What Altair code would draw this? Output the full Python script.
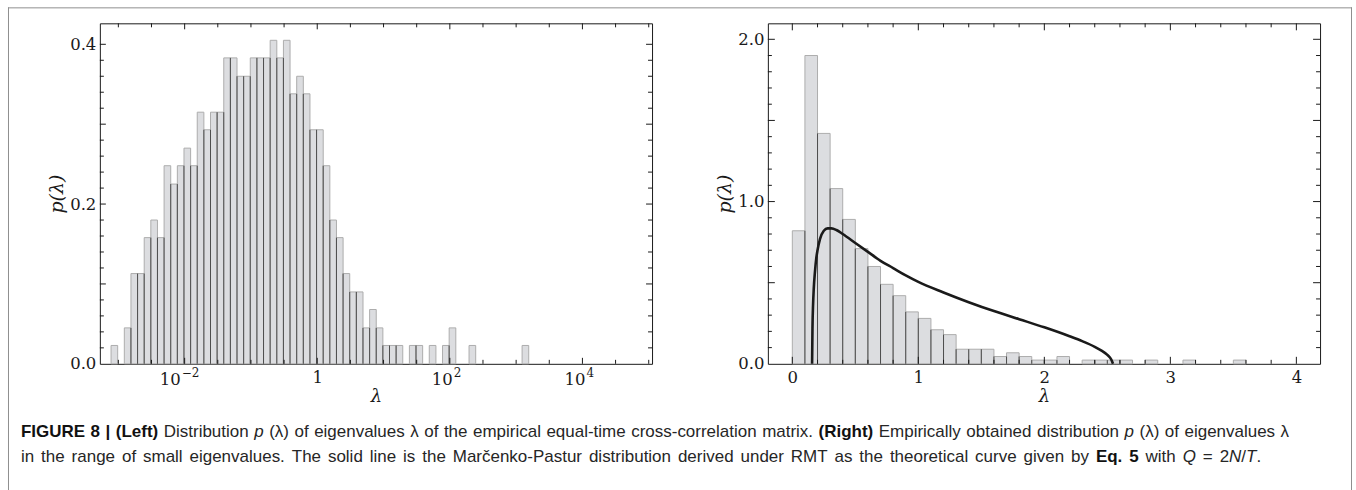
import altair as alt
import pandas as pd

# ---------------- data ----------------
# Left panel: histogram of log10(lambda), bins of 0.1 decade, first lower edge at 10^-3.11
left_first_edge_log = -3.11
left_bin_w = 0.1
left_p = [0.023, 0.0, 0.045, 0.113, 0.113, 0.158, 0.180, 0.158, 0.248, 0.225,
          0.248, 0.270, 0.248, 0.315, 0.293, 0.315, 0.315, 0.383, 0.383, 0.360,
          0.360, 0.383, 0.383, 0.383, 0.405, 0.383, 0.405, 0.338, 0.360, 0.338,
          0.293, 0.293, 0.248, 0.180, 0.158, 0.113, 0.090, 0.090, 0.045, 0.068,
          0.045, 0.023, 0.023, 0.023, 0.0, 0.023, 0.023, 0.0, 0.023, 0.0,
          0.023, 0.045, 0.0, 0.0, 0.023, 0.0, 0.0, 0.0, 0.0, 0.0,
          0.0, 0.0, 0.023]

# Right panel: histogram of lambda, bins of width 0.1 starting at 0
right_first_edge = 0.0
right_bin_w = 0.1
right_p = [0.82, 1.90, 1.42, 1.08, 0.89, 0.71, 0.60, 0.49, 0.42, 0.32,
           0.28, 0.21, 0.18, 0.09, 0.09, 0.09, 0.045, 0.068, 0.045, 0.023,
           0.023, 0.045, 0.0, 0.023, 0.023, 0.023, 0.023, 0.0, 0.023, 0.0,
           0.0, 0.023, 0.0, 0.0, 0.0, 0.023]

# Marcenko-Pastur curve, points
mp_lam = [0.157, 0.160, 0.165, 0.170, 0.180, 0.190, 0.200, 0.220, 0.250, 0.280,
          0.310, 0.350, 0.400, 0.500, 0.600, 0.700, 0.800, 0.900, 1.000, 1.200,
          1.400, 1.600, 1.800, 2.000, 2.200, 2.300, 2.400, 2.450, 2.500, 2.530, 2.545]
mp_p = [0.0, 0.22, 0.37, 0.46, 0.57, 0.65, 0.70, 0.77, 0.82, 0.835,
        0.835, 0.825, 0.80, 0.745, 0.69, 0.635, 0.59, 0.545, 0.505, 0.44,
        0.38, 0.325, 0.275, 0.225, 0.17, 0.14, 0.105, 0.083, 0.055, 0.028, 0.0]

# tick values and labels
left_x_plain = [1.0]
left_x_pow_values = [1e-2, 1e2, 1e4]
left_x_pow_exps = ["−2", "2", "4"]
left_x_labels = [1e-2, 1.0, 1e2, 1e4]
left_x_minor = [10 ** (k / 2) for k in range(-6, 11) if k % 4 != 0]
left_y_labels = [0.0, 0.2, 0.4]
left_y_major = [0.1, 0.2, 0.3, 0.4]
left_y_minor = [round(0.02 * k, 2) for k in range(1, 21) if k % 5 != 0]

right_x_labels = [0, 1, 2, 3, 4]
right_x_minor = [round(0.2 * k, 1) for k in range(0, 21) if k % 5 != 0]
right_y_labels = [0.0, 1.0, 2.0]
right_y_major = [0.5, 1.0, 1.5, 2.0]
right_y_minor = [round(0.1 * k, 1) for k in range(1, 21) if k % 5 != 0]

caption_line1 = [("FIGURE 8 | (Left)", "b"), (" Distribution ", "r"), ("p", "i"),
                 (" (λ) of eigenvalues λ of the empirical equal-time cross-correlation matrix. ", "r"),
                 ("(Right)", "b"), (" Empirically obtained distribution ", "r"), ("p", "i"),
                 (" (λ) of eigenvalues λ", "r")]
caption_line2 = [("in the range of small eigenvalues. The solid line is the Marčenko-Pastur distribution "
                  "derived under RMT as the theoretical curve given by ", "r"),
                 ("Eq. 5", "b"), (" with ", "r"), ("Q", "i"), (" = 2", "r"), ("N", "i"),
                 ("/", "r"), ("T", "i"), (".", "r")]

# ---------------- style / layout ----------------
W, H = 553, 341
GAP = 116
FILL = "#dcdde0"
EDGE = "#adadad"
DARK = "#4d4d4d"
TICK = "#1a1a1a"
SERIF = "DejaVu Serif"
SANS = "Liberation Sans"
LAB_FS = 16.5

xs_L = alt.Scale(type="log", domain=[10 ** -3.279, 10 ** 5.05], nice=False)
ys_L = alt.Scale(domain=[0, H / 800.0], nice=False, zero=False)
xs_R = alt.Scale(domain=[-0.194, 4.188], nice=False, zero=False)
ys_R = alt.Scale(domain=[0, H / 162.5], nice=False, zero=False)


def x_axis(values, fmt=None):
    kw = dict(values=values, ticks=False, domain=False, grid=False, labelFont=SERIF,
              labelFontSize=LAB_FS, labelColor=TICK, labelPadding=6, labelFlush=False,
              labelOverlap=False, title="λ", titleFont=SERIF, titleFontStyle="italic",
              titleFontWeight="normal", titleFontSize=18, titleColor=TICK, titlePadding=1)
    if fmt:
        kw["format"] = fmt
    return alt.Axis(**kw)


def y_axis(values):
    return alt.Axis(values=values, format=".1f", ticks=False, domain=False, grid=False,
                    labelFont=SERIF, labelFontSize=LAB_FS, labelColor=TICK, labelPadding=4,
                    labelFlush=False, labelOverlap=False, title="p(λ)", titleFont=SERIF,
                    titleFontStyle="italic", titleFontWeight="normal", titleFontSize=19,
                    titleColor=TICK, titlePadding=3)


def hist_frames(p, edge_of):
    rows, bounds = [], []
    for i, v in enumerate(p):
        if v > 0:
            rows.append({"lo": edge_of(i), "hi": edge_of(i + 1), "p": v, "b0": 0.0})
        if i > 0 and v > 0 and p[i - 1] > 0:
            bounds.append({"e": edge_of(i), "t": min(v, p[i - 1]), "b0": 0.0})
    return pd.DataFrame(rows), pd.DataFrame(bounds)


def tick_layers(xs, ys, xax, yax, xmaj, xmin, ymaj, ymin, lx, ly):
    out = []
    for vals, ln in ((xmaj, lx[0]), (xmin, lx[1])):
        base = alt.Chart(pd.DataFrame({"v": vals})).mark_rule(color=TICK, strokeWidth=1)
        out.append(base.encode(x=alt.X("v:Q", scale=xs, axis=xax), y=alt.value(H), y2=alt.value(H - ln)))
        out.append(base.encode(x=alt.X("v:Q", scale=xs, axis=xax), y=alt.value(0), y2=alt.value(ln)))
    for vals, ln in ((ymaj, ly[0]), (ymin, ly[1])):
        base = alt.Chart(pd.DataFrame({"v": vals})).mark_rule(color=TICK, strokeWidth=1)
        out.append(base.encode(y=alt.Y("v:Q", scale=ys, axis=yax), x=alt.value(0), x2=alt.value(ln)))
        out.append(base.encode(y=alt.Y("v:Q", scale=ys, axis=yax), x=alt.value(W), x2=alt.value(W - ln)))
    return out


# ---------------- left panel ----------------
barsL, boundL = hist_frames(left_p, lambda i: 10 ** (left_first_edge_log + left_bin_w * i))
xaxL = x_axis(left_x_plain)
yaxL = y_axis(left_y_labels)
left_layers = [
    alt.Chart(barsL).mark_rect(fill=FILL, stroke=EDGE, strokeWidth=1).encode(
        x=alt.X("lo:Q", scale=xs_L, axis=xaxL), x2="hi",
        y=alt.Y("p:Q", scale=ys_L, axis=yaxL), y2="b0"),
    alt.Chart(boundL).mark_rule(color=DARK, strokeWidth=1).encode(
        x=alt.X("e:Q", scale=xs_L, axis=xaxL),
        y=alt.Y("t:Q", scale=ys_L, axis=yaxL), y2="b0"),
]
left_layers += tick_layers(xs_L, ys_L, xaxL, yaxL, left_x_labels, left_x_minor,
                           left_y_major, left_y_minor, lx=(6, 4), ly=(6, 4))

# power-of-ten tick labels: "10" plus a raised exponent, placed through the x scale
for val, ex in zip(left_x_pow_values, left_x_pow_exps):
    d = pd.DataFrame({"v": [val], "b": ["10"], "e": [ex]})
    shift = -4 if ex.startswith("−") else 3
    left_layers.append(alt.Chart(d).mark_text(
        align="right", baseline="alphabetic", font=SERIF, fontSize=LAB_FS, color=TICK,
        dx=shift).encode(x=alt.X("v:Q", scale=xs_L, axis=xaxL), y=alt.value(H + 21), text="b:N"))
    left_layers.append(alt.Chart(d).mark_text(
        align="left", baseline="alphabetic", font=SERIF, fontSize=12, color=TICK,
        dx=shift + 1).encode(x=alt.X("v:Q", scale=xs_L, axis=xaxL), y=alt.value(H + 13), text="e:N"))

# outer figure frame (relative to the left plot's origin at page (99, 22))
OX, OY = 99, 22
one = pd.DataFrame({"k": [0]})
frame_col = "#8f8f8f"
left_layers += [
    alt.Chart(one).mark_rule(color=frame_col, strokeWidth=1).encode(
        x=alt.value(7.5 - OX), y=alt.value(6 - OY), y2=alt.value(490 - OY)),
    alt.Chart(one).mark_rule(color=frame_col, strokeWidth=1).encode(
        x=alt.value(1352.5 - OX), y=alt.value(6 - OY), y2=alt.value(490 - OY)),
    alt.Chart(one).mark_rule(color=frame_col, strokeWidth=1).encode(
        x=alt.value(7 - OX), x2=alt.value(1353 - OX), y=alt.value(6.5 - OY)),
]

# caption: justified lines of mixed bold / italic runs (Arial-compatible advance widths)
REG = {' ': 278, '!': 278, '(': 333, ')': 333, ',': 278, '-': 333, '.': 278, '/': 278,
       ':': 278, '=': 584, '|': 260, 'λ': 500, 'č': 500}
for c, w in zip("ABCDEFGHIJKLMNOPQRSTUVWXYZ",
                [667, 667, 722, 722, 667, 611, 778, 722, 278, 500, 667, 556, 833, 722, 778,
                 667, 778, 722, 667, 611, 722, 667, 944, 667, 667, 611]):
    REG[c] = w
for c, w in zip("abcdefghijklmnopqrstuvwxyz",
                [556, 556, 500, 556, 556, 278, 556, 556, 222, 222, 500, 222, 833, 556, 556,
                 556, 556, 333, 500, 278, 556, 500, 722, 500, 500, 500]):
    REG[c] = w
BOLD = {' ': 278, '(': 333, ')': 333, '.': 278, '|': 280, ',': 278}
for c, w in zip("ABCDEFGHIJKLMNOPQRSTUVWXYZ",
                [722, 722, 722, 722, 667, 611, 778, 722, 278, 556, 722, 611, 833, 722, 778,
                 667, 778, 722, 667, 611, 722, 667, 944, 667, 667, 611]):
    BOLD[c] = w
for c, w in zip("abcdefghijklmnopqrstuvwxyz",
                [556, 611, 556, 611, 556, 333, 611, 611, 278, 278, 556, 278, 889, 611, 611,
                 611, 611, 389, 556, 333, 611, 556, 778, 556, 556, 500]):
    BOLD[c] = w

CAP_FS = 17


def em_width(s, style):
    tab = BOLD if style == "b" else REG
    return sum(tab.get(ch, 556) for ch in s) / 1000.0


def split_words(line):
    words, cur = [], []
    for s, st in line:
        buf = ""
        for ch in s:
            if ch == " ":
                if buf:
                    cur.append((buf, st))
                    buf = ""
                if cur:
                    words.append(cur)
                    cur = []
            else:
                buf += ch
        if buf:
            cur.append((buf, st))
    if cur:
        words.append(cur)
    return words


def caption_layers(line, x0, x1, base_y):
    words = split_words(line)
    wlen = [sum(em_width(t, st) for t, st in w) * CAP_FS for w in words]
    gap = (x1 - x0 - sum(wlen)) / (len(words) - 1)
    out = []
    x = x0
    for w, wl in zip(words, wlen):
        rx = x
        for t, st in w:
            out.append(alt.Chart(pd.DataFrame({"t": [t]})).mark_text(
                align="left", baseline="alphabetic", font=SANS, fontSize=CAP_FS,
                fontWeight="bold" if st == "b" else "normal",
                fontStyle="italic" if st == "i" else "normal",
                color="#111111" if st == "b" else "#262626").encode(
                x=alt.value(rx - OX), y=alt.value(base_y - OY), text="t:N"))
            rx += em_width(t, st) * CAP_FS
        x += wl + gap
    return out


left_layers += caption_layers(caption_line1, 20, 1290, 436)
left_layers += caption_layers(caption_line2, 20, 1262, 461)

left = alt.layer(*left_layers).properties(width=W, height=H)

# ---------------- right panel ----------------
barsR, boundR = hist_frames(right_p, lambda i: round(right_first_edge + right_bin_w * i, 3))
mp = pd.DataFrame({"lam": mp_lam, "p": mp_p})
xaxR = x_axis(right_x_labels, fmt="d")
yaxR = y_axis(right_y_labels)
right_layers = [
    alt.Chart(barsR).mark_rect(fill=FILL, stroke=EDGE, strokeWidth=1).encode(
        x=alt.X("lo:Q", scale=xs_R, axis=xaxR), x2="hi",
        y=alt.Y("p:Q", scale=ys_R, axis=yaxR), y2="b0"),
    alt.Chart(boundR).mark_rule(color=DARK, strokeWidth=1).encode(
        x=alt.X("e:Q", scale=xs_R, axis=xaxR),
        y=alt.Y("t:Q", scale=ys_R, axis=yaxR), y2="b0"),
    alt.Chart(mp).mark_line(color="#1a1a1a", strokeWidth=2.6, interpolate="monotone").encode(
        x=alt.X("lam:Q", scale=xs_R, axis=xaxR),
        y=alt.Y("p:Q", scale=ys_R, axis=yaxR)),
]
right_layers += tick_layers(xs_R, ys_R, xaxR, yaxR, right_x_labels, right_x_minor,
                            right_y_major, right_y_minor, lx=(7, 4), ly=(7, 4))
right = alt.layer(*right_layers).properties(width=W, height=H)

chart = alt.hconcat(left, right, spacing=GAP, bounds="flush").properties(
    padding={"left": 7, "top": 6, "right": 3, "bottom": 0},
    background="white",
).configure_view(stroke="#1a1a1a", strokeWidth=1)

chart.save("out.html", embed_options={"renderer": "svg", "actions": False})
